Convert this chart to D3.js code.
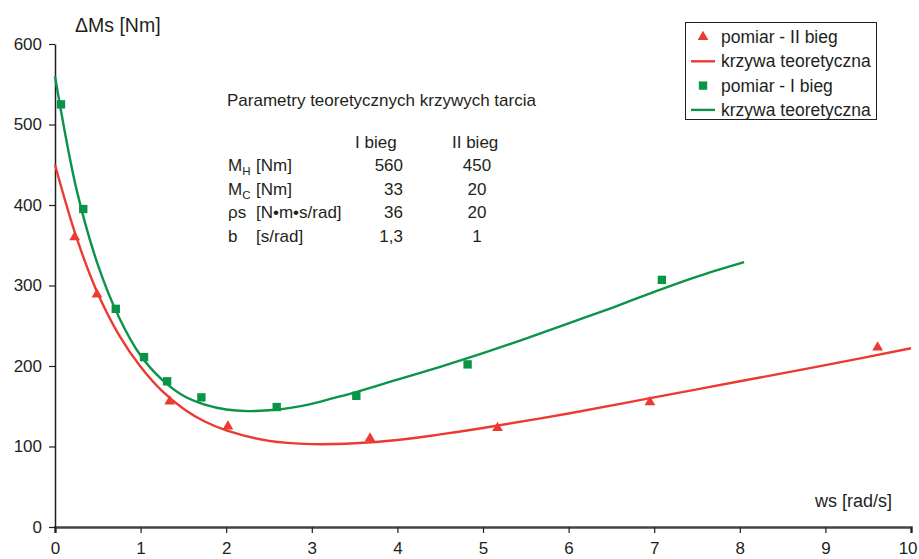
<!DOCTYPE html>
<html>
<head>
<meta charset="utf-8">
<script src="https://cdn.jsdelivr.net/npm/d3@7"></script>
<style>
  body { margin: 0; background: #fff; }
  svg { font-family: "Liberation Sans", Arial, sans-serif; }
</style>
</head>
<body>
<svg id="chart" width="919" height="559"></svg>
<script>
// measured points - gear I (squares) and gear II (triangles)
var wsI   = [0.07, 0.33, 0.71, 1.04, 1.31, 1.71, 2.59, 3.52, 4.82, 7.09];
var msI   = [525, 395, 271, 211, 181, 161, 149, 163, 202, 307];
var wsII  = [0.23, 0.49, 1.34, 2.02, 3.68, 5.17, 6.95, 9.61];
var msII  = [360, 289, 156, 125, 110, 123, 155, 223];

// theoretical curves
var curveWsI = [0, 0.25, 0.5, 0.75, 1, 1.25, 1.5, 1.75, 2, 2.25, 2.5, 2.75, 3, 3.25, 3.5, 4, 4.5, 5, 5.5, 6, 6.5, 7, 7.5, 8.05];
var curveMsI = [560, 420, 326, 260, 213, 183, 163, 152, 146, 144, 145, 148, 153, 160, 167, 183, 199, 216, 234, 253, 272, 292, 311, 329];
var curveWsII = [0, 0.25, 0.5, 0.75, 1, 1.25, 1.5, 1.75, 2, 2.5, 3, 3.5, 4, 4.5, 5, 6, 7, 8, 9, 10];
var curveMsII = [450, 360, 290, 238, 199, 169, 147, 131, 120, 107, 103, 104, 108, 115, 123, 141, 161, 181, 201, 222];

var xTicks = [0, 1, 2, 3, 4, 5, 6, 7, 8, 9, 10];
var yTicks = [0, 100, 200, 300, 400, 500, 600];

var legendItems = [
  { label: "pomiar - II bieg", kind: "tri" },
  { label: "krzywa teoretyczna", kind: "lineR" },
  { label: "pomiar  - I bieg", kind: "sq" },
  { label: "krzywa teoretyczna", kind: "lineG" }
];

var tableHead = ["I bieg", "II bieg"];
var tableRows = [
  { name: "M", sub: "H", unit: "[Nm]", v1: "560", v2: "450" },
  { name: "M", sub: "C", unit: "[Nm]", v1: "33", v2: "20" },
  { name: "\u03c1s", sub: "", unit: "[N\u2022m\u2022s/rad]", v1: "36", v2: "20" },
  { name: "b", sub: "", unit: "[s/rad]", v1: "1,3", v2: "1" }
];

var red = "#ec3a33";
var green = "#0a9448";
var ink = "#231f20";

var svg = d3.select("#chart");

var x = d3.scaleLinear().domain([0, 10]).range([55, 911]);
var y = d3.scaleLinear().domain([0, 600]).range([527, 44]);

// axes
var xAxis = svg.append("g")
  .attr("transform", "translate(0,527)")
  .call(d3.axisBottom(x).tickValues(xTicks).tickSize(6).tickPadding(9).tickFormat(d3.format("d")));
xAxis.select(".domain").attr("stroke", "#444").attr("stroke-width", 2.5);
xAxis.selectAll(".tick line").attr("stroke", ink).attr("stroke-width", 1.2);
xAxis.selectAll("text").attr("font-size", 17).attr("fill", ink).attr("font-family", "Liberation Sans, Arial");
// last label sits at the edge of the picture
xAxis.selectAll(".tick text").filter(d => d === 10).attr("dx", "-0.2em");

var yAxis = svg.append("g")
  .attr("transform", "translate(55,0)")
  .call(d3.axisLeft(y).tickValues(yTicks).tickSize(6).tickPadding(7).tickSizeOuter(0));
yAxis.select(".domain").attr("stroke", ink).attr("stroke-width", 1.5);
yAxis.selectAll(".tick line").attr("stroke", ink).attr("stroke-width", 1.2);
yAxis.selectAll("text").attr("font-size", 17).attr("fill", ink).attr("font-family", "Liberation Sans, Arial");

svg.append("text")
  .attr("x", 75).attr("y", 32)
  .attr("font-size", 19.5).attr("fill", ink)
  .text("\u0394Ms [Nm]");

svg.append("text")
  .attr("x", 892).attr("y", 507)
  .attr("text-anchor", "end")
  .attr("font-size", 18).attr("fill", ink)
  .text("ws [rad/s]");

// curves
var line = d3.line()
  .x(d => x(d[0]))
  .y(d => y(d[1]))
  .curve(d3.curveCatmullRom.alpha(0.5));

svg.append("path")
  .datum(d3.zip(curveWsII, curveMsII))
  .attr("d", line)
  .attr("fill", "none")
  .attr("stroke", red)
  .attr("stroke-width", 2.4);

svg.append("path")
  .datum(d3.zip(curveWsI, curveMsI))
  .attr("d", line)
  .attr("fill", "none")
  .attr("stroke", green)
  .attr("stroke-width", 2.4);

// markers
var tri = d3.symbol().type(d3.symbolTriangle).size(50);
var sq = d3.symbol().type(d3.symbolSquare).size(70);

svg.append("g").selectAll("path")
  .data(d3.zip(wsII, msII))
  .join("path")
  .attr("transform", d => `translate(${x(d[0])},${y(d[1])})`)
  .attr("d", tri)
  .attr("fill", red);

svg.append("g").selectAll("path")
  .data(d3.zip(wsI, msI))
  .join("path")
  .attr("transform", d => `translate(${x(d[0])},${y(d[1])})`)
  .attr("d", sq)
  .attr("fill", green);

// parameter table
var tbl = svg.append("g").attr("font-size", 17).attr("fill", ink);

tbl.append("text")
  .attr("x", 227).attr("y", 106)
  .text("Parametry teoretycznych krzywych tarcia");

tbl.append("text").attr("x", 355).attr("y", 148).text(tableHead[0]);
tbl.append("text").attr("x", 452).attr("y", 148).text(tableHead[1]);

tableRows.forEach(function(r, i) {
  var yy = 171 + i * 23.5;
  var t = tbl.append("text").attr("x", 228).attr("y", yy);
  t.append("tspan").text(r.name);
  if (r.sub) {
    t.append("tspan").attr("font-size", 11.5).attr("dy", 4).text(r.sub);
  }
  tbl.append("text").attr("x", 256).attr("y", yy).text(r.unit);
  tbl.append("text").attr("x", 403).attr("y", yy).attr("text-anchor", "end").text(r.v1);
  tbl.append("text").attr("x", 477).attr("y", yy).attr("text-anchor", "middle").text(r.v2);
});

// legend
var lg = svg.append("g");
lg.append("rect")
  .attr("x", 685.5).attr("y", 22.5)
  .attr("width", 191).attr("height", 97)
  .attr("fill", "#fff").attr("stroke", ink).attr("stroke-width", 1);

legendItems.forEach(function(item, i) {
  var cy = 37 + i * 24.3;
  if (item.kind === "tri") {
    lg.append("path").attr("transform", `translate(703,${cy})`).attr("d", tri).attr("fill", red);
  } else if (item.kind === "sq") {
    lg.append("path").attr("transform", `translate(703,${cy})`).attr("d", sq).attr("fill", green);
  } else {
    lg.append("line")
      .attr("x1", 691).attr("x2", 715).attr("y1", cy).attr("y2", cy)
      .attr("stroke", item.kind === "lineR" ? red : green)
      .attr("stroke-width", 2.4);
  }
  lg.append("text")
    .attr("x", 721).attr("y", cy + 6)
    .attr("font-size", 17.5).attr("fill", ink)
    .text(item.label);
});
</script>
</body>
</html>
